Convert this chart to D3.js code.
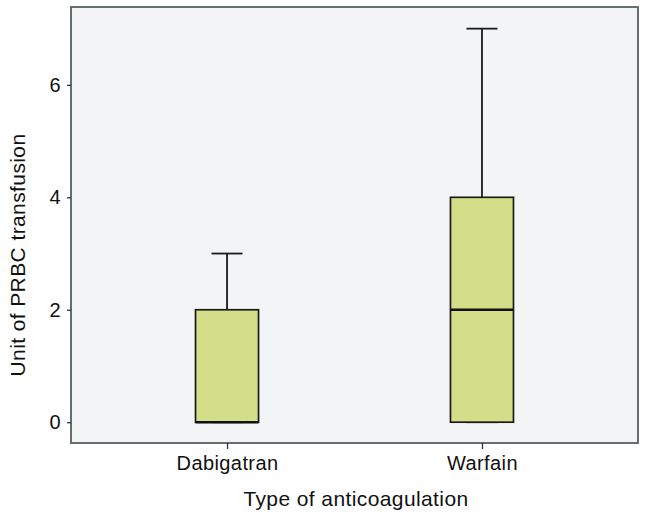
<!DOCTYPE html>
<html><head><meta charset="utf-8">
<script src="https://cdn.jsdelivr.net/npm/d3@7"></script>
<style>body{margin:0;background:#fff}svg{display:block}text{font-family:"Liberation Sans",Arial,sans-serif;fill:#111}</style>
</head><body><svg id="c" width="647" height="519"></svg>
<script>
const categories = ["Dabigatran", "Warfain"];
const mins    = [0, 0];
const q1s     = [0, 0];
const medians = [0, 2];
const q3s     = [2, 4];
const maxs    = [3, 7];
const yTicks  = [0, 2, 4, 6];
const xTitle = "Type of anticoagulation";
const yTitle = "Unit of PRBC transfusion";

const data = categories.map((c, i) => ({c, min: mins[i], q1: q1s[i], med: medians[i], q3: q3s[i], max: maxs[i]}));

const svg = d3.select("#c");
const L = 71, R = 638, T = 7, B = 443;
const x = d3.scalePoint().domain(categories).range([L, R]).padding(0.612);
const y = d3.scaleLinear().domain([-0.37, 7.385]).range([B, T]);

svg.append("rect").attr("x", L).attr("y", T).attr("width", R - L).attr("height", B - T)
  .attr("fill", "#f3f4f6").attr("stroke", "#56625f").attr("stroke-width", 1.8);

const yAxis = svg.append("g").attr("transform", `translate(${L},0)`)
  .call(d3.axisLeft(y).tickValues(yTicks).tickSize(4).tickPadding(6).tickFormat(d3.format("d")));
const xAxis = svg.append("g").attr("transform", `translate(0,${B})`)
  .call(d3.axisBottom(x).tickSize(6).tickPadding(7));
[yAxis, xAxis].forEach(a => {
  a.select(".domain").remove();
  a.selectAll(".tick line").attr("stroke", "#333").attr("stroke-width", 1.3);
  a.selectAll("text").style("font-size", "20px").style("fill", "#111").style("letter-spacing", "0.4px")
    .style("font-family", '"Liberation Sans", Arial, sans-serif');
});

const bw = 63, cw = 31;
const g = svg.append("g").selectAll("g").data(data).join("g");
g.append("line").attr("x1", d => x(d.c)).attr("x2", d => x(d.c))
  .attr("y1", d => y(d.max)).attr("y2", d => y(d.q3)).attr("stroke", "#1a1a1a").attr("stroke-width", 1.8);
g.append("line").attr("x1", d => x(d.c)).attr("x2", d => x(d.c))
  .attr("y1", d => y(d.min)).attr("y2", d => y(d.q1)).attr("stroke", "#1a1a1a").attr("stroke-width", 1.8);
g.append("line").attr("x1", d => x(d.c) - cw / 2).attr("x2", d => x(d.c) + cw / 2)
  .attr("y1", d => y(d.max)).attr("y2", d => y(d.max)).attr("stroke", "#1a1a1a").attr("stroke-width", 1.8);
g.append("line").attr("x1", d => x(d.c) - cw / 2).attr("x2", d => x(d.c) + cw / 2)
  .attr("y1", d => y(d.min)).attr("y2", d => y(d.min)).attr("stroke", "#1a1a1a").attr("stroke-width", 1.8);
g.append("rect").attr("x", d => x(d.c) - bw / 2).attr("width", bw)
  .attr("y", d => y(d.q3)).attr("height", d => y(d.q1) - y(d.q3))
  .attr("fill", "#d3df88").attr("stroke", "#1a1a1a").attr("stroke-width", 1.7);
g.append("line").attr("x1", d => x(d.c) - bw / 2).attr("x2", d => x(d.c) + bw / 2)
  .attr("y1", d => y(d.med)).attr("y2", d => y(d.med)).attr("stroke", "#111").attr("stroke-width", 2.4);

svg.append("text").attr("x", 356).attr("y", 506).attr("text-anchor", "middle")
  .style("font-size", "21px").style("letter-spacing", "0.4px").text(xTitle);
svg.append("text").attr("transform", "translate(25,255) rotate(-90)").attr("text-anchor", "middle")
  .style("font-size", "21px").style("letter-spacing", "0.4px").text(yTitle);
</script></body></html>
